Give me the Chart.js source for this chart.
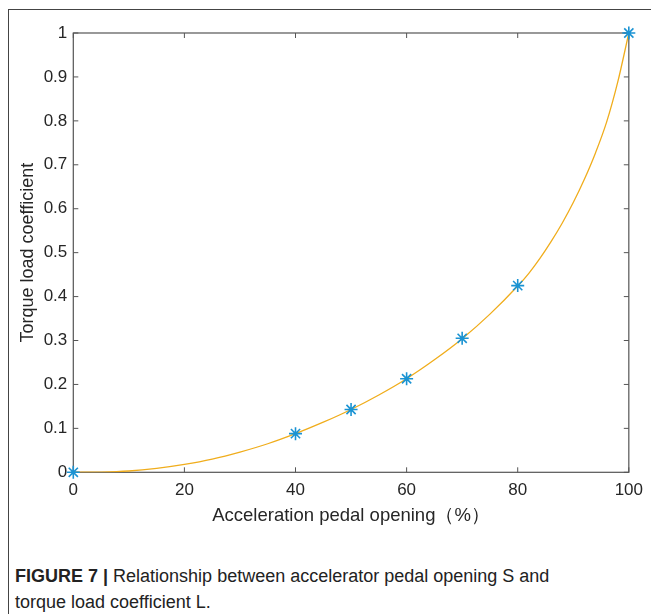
<!DOCTYPE html>
<html>
<head>
<meta charset="utf-8">
<script src="https://cdn.jsdelivr.net/npm/chart.js@4"></script>
<style>
body{margin:0;background:#fff;width:651px;height:614px;overflow:hidden;position:relative}
#frame{position:absolute;left:8px;top:9px;right:0;bottom:0;border-left:1px solid #444;border-top:1px solid #444}
#wrap{position:absolute;left:0;top:0}
#caption{position:absolute;left:15px;top:563px;font-family:"Liberation Sans Narrow","Liberation Sans",Arial,sans-serif;font-size:18px;line-height:26px;color:#222}
#caption b{font-weight:bold}
</style>
</head>
<body>
<div id="frame"></div>
<div id="wrap"><canvas id="torqueChart" width="651" height="540"></canvas></div>
<div id="caption"><b>FIGURE 7 |</b> Relationship between accelerator pedal opening S and<br>torque load coefficient L.</div>
<script>
// fitted curve
const curveS = [0,5,10,15,20,25,30,35,40,45,50,55,60,65,70,75,80,82,84,86,88,90,92,94,96,98,100];
const curveL = [0,0.0005,0.003,0.009,0.018,0.030,0.046,0.065,0.088,0.114,0.143,0.176,0.213,0.256,0.304,0.360,0.424,0.453,0.487,0.525,0.567,0.614,0.667,0.727,0.797,0.888,1.0];

// calibration points
const pedalS = [0,40,50,60,70,80,100];
const coefL = [0,0.088,0.143,0.213,0.305,0.425,1];

const xTicks = [0,20,40,60,80,100];
const yTicks = [0,0.1,0.2,0.3,0.4,0.5,0.6,0.7,0.8,0.9,1];

const pts = (xs, ys) => xs.map((x, i) => ({x: x, y: ys[i]}));

// box around the plot with inward tick marks on all four sides
const boxTicks = {
  id: 'boxTicks',
  beforeDatasetsDraw(chart){
    const {ctx, chartArea: a, scales} = chart;
    ctx.save();
    ctx.strokeStyle = '#555';
    ctx.lineWidth = 1.2;
    ctx.strokeRect(a.left, a.top, a.right - a.left, a.bottom - a.top);
    ctx.lineWidth = 1;
    const len = 5;
    ctx.beginPath();
    xTicks.forEach(v => {
      const px = scales.x.getPixelForValue(v);
      ctx.moveTo(px, a.bottom); ctx.lineTo(px, a.bottom - len);
      ctx.moveTo(px, a.top); ctx.lineTo(px, a.top + len);
    });
    yTicks.forEach(v => {
      const py = scales.y.getPixelForValue(v);
      ctx.moveTo(a.left, py); ctx.lineTo(a.left + len, py);
      ctx.moveTo(a.right, py); ctx.lineTo(a.right - len, py);
    });
    ctx.stroke();
    ctx.restore();
  }
};

const font = "'Liberation Sans', Arial, sans-serif";

new Chart(document.getElementById('torqueChart'), {
  type: 'scatter',
  data: {
    datasets: [{
      data: pts(pedalS, coefL),
      showLine: false,
      pointStyle: 'star',
      pointRadius: 6.5,
      pointHoverRadius: 6.5,
      borderColor: '#1a93d3',
      backgroundColor: '#1a93d3',
      borderWidth: 1.6,
      clip: false,
      order: 1
    }, {
      data: pts(curveS, curveL),
      showLine: true,
      pointRadius: 0,
      borderColor: '#f0ad1c',
      borderWidth: 1.3,
      cubicInterpolationMode: 'monotone',
      fill: false,
      order: 2
    }]
  },
  options: {
    responsive: false,
    animation: false,
    devicePixelRatio: 1,
    layout: {padding: {left: 17, top: 33, right: 18.7, bottom: 13}},
    plugins: {legend: {display: false}, tooltip: {enabled: false}},
    scales: {
      x: {
        type: 'linear', min: 0, max: 100,
        afterBuildTicks: s => { s.ticks = xTicks.map(v => ({value: v})); },
        afterFit: s => { s.height = 54.7; },
        grid: {display: false, drawTicks: false},
        border: {display: false},
        ticks: {color: '#262626', padding: 8, font: {family: font, size: 17}, maxRotation: 0,
                callback: v => String(v)},
        title: {display: true, text: 'Acceleration pedal opening（%）', color: '#262626',
                padding: {top: 0, bottom: 0}, font: {family: font, size: 18.5}}
      },
      y: {
        type: 'linear', min: 0, max: 1,
        afterBuildTicks: s => { s.ticks = yTicks.map(v => ({value: v})); },
        afterFit: s => { s.width = 56.3; },
        grid: {display: false, drawTicks: false},
        border: {display: false},
        ticks: {color: '#262626', padding: 6, font: {family: font, size: 17},
                callback: v => String(v)},
        title: {display: true, text: 'Torque load coefficient', color: '#262626',
                padding: {top: 0, bottom: 0}, font: {family: font, size: 18}}
      }
    }
  },
  plugins: [boxTicks]
});
</script>
</body>
</html>
